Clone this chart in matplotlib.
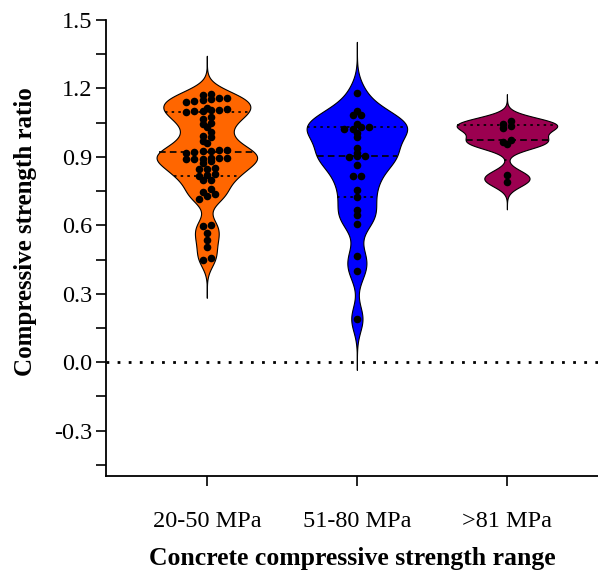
import numpy as np
import matplotlib
matplotlib.use("Agg")
import matplotlib.pyplot as plt

categories = ["20-50 MPa", "51-80 MPa", ">81 MPa"]
colors = ["#FF6600", "#0000FF", "#9B0050"]

ratio_20_50 = [1.175, 1.17,
               1.16, 1.155, 1.15, 1.145, 1.14, 1.16,
               1.11, 1.105, 1.10, 1.105, 1.115, 1.10,
               1.095, 1.075, 1.065,
               1.05, 1.045,
               1.03,
               1.01,
               0.99, 0.985,
               0.97, 0.96,
               0.93, 0.925, 0.92, 0.925, 0.915, 0.93,
               0.895, 0.89, 0.895, 0.89, 0.895, 0.89,
               0.88, 0.875,
               0.85, 0.845, 0.845,
               0.825, 0.82, 0.815,
               0.80, 0.80,
               0.76, 0.745,
               0.735, 0.73, 0.715,
               0.60, 0.595,
               0.565, 0.535, 0.505,
               0.455, 0.45]
ratio_51_80 = [1.18, 1.10, 1.085, 1.085, 1.045, 1.03, 1.02, 1.02, 1.03, 1.005,
               0.985, 0.94, 0.915, 0.905, 0.90, 0.905, 0.865, 0.815, 0.815,
               0.755, 0.725, 0.665, 0.645, 0.605, 0.465, 0.40, 0.19]
ratio_81 = [1.055, 1.045, 1.035, 1.025, 0.975, 0.965, 0.955, 0.82, 0.79]

groups = [ratio_20_50, ratio_51_80, ratio_81]
bandwidths = [0.042, 0.056, 0.03]


def kde(vals, grid, bw):
    vals = np.asarray(vals)
    d = (grid[:, None] - vals[None, :]) / bw
    return np.exp(-0.5 * d ** 2).sum(axis=1)


def swarm_offsets(vals, binw=0.025, dx=0.055):
    vals = np.asarray(vals)
    bins = np.round(vals / binw).astype(int)
    offs = np.zeros(len(vals))
    for b in np.unique(bins):
        idx = np.where(bins == b)[0]
        idx = idx[np.argsort(vals[idx])]
        n = len(idx)
        offs[idx] = (np.arange(n) - (n - 1) / 2) * dx
    return offs


plt.rcParams["font.family"] = ["Liberation Serif", "DejaVu Serif"]

fig = plt.figure(figsize=(5.98, 5.71), dpi=100)
ax = fig.add_axes([0.177, 0.166, 0.823, 0.799])

half_w = 0.335
for i, (vals, col, bw) in enumerate(zip(groups, colors, bandwidths)):
    vals = np.asarray(vals)
    grid = np.linspace(vals.min() - 4 * bw, vals.max() + 4 * bw, 400)
    dens = kde(vals, grid, bw)
    scale = half_w / dens.max()
    w = dens * scale
    ax.fill_betweenx(grid, i - w, i + w, facecolor=col, edgecolor="black",
                     linewidth=0.8, zorder=2)
    q1, med, q3 = np.percentile(vals, [25, 50, 75], method="weibull")
    for q, ls in [(q1, (0, (1.5, 2.5))), (med, (0, (4, 2.5))), (q3, (0, (1.5, 2.5)))]:
        hw = kde(vals, np.array([q]), bw)[0] * scale
        ax.plot([i - hw, i + hw], [q, q], color="black", linestyle=ls,
                linewidth=1.2, zorder=3)
    ax.scatter(i + swarm_offsets(vals), vals, s=30, color="black", zorder=4,
               linewidths=0)

ax.axhline(0, color="black", linestyle=(0, (1, 3)), linewidth=2, zorder=1)

ax.set_xlim(-0.673, 2.607)
ax.set_ylim(-0.5, 1.5)
yt = np.arange(-0.3, 1.51, 0.3)
ax.set_yticks(yt)
ax.set_yticklabels([f"{v:.1f}" if abs(v) > 1e-9 else "0.0" for v in yt])
ax.set_yticks(np.arange(-0.45, 1.5, 0.3), minor=True)
ax.set_xticks(range(len(categories)))
ax.set_xticklabels(categories)

ax.spines["top"].set_visible(False)
ax.spines["right"].set_visible(False)
for s in ["left", "bottom"]:
    ax.spines[s].set_linewidth(1.3)
ax.tick_params(axis="both", which="major", length=7, width=1.2, labelsize=17.5, direction="out")
ax.tick_params(axis="y", which="minor", length=7, width=1.2)
ax.tick_params(axis="x", pad=18)
ax.tick_params(axis="y", pad=3)

ax.set_ylabel("Compressive strength ratio", fontsize=18, fontweight="bold")
ax.yaxis.set_label_coords(-0.14, 0.537)
ax.set_xlabel("Concrete compressive strength range", fontsize=18.5, fontweight="bold", labelpad=11)

fig.savefig("out.png", dpi=100)
